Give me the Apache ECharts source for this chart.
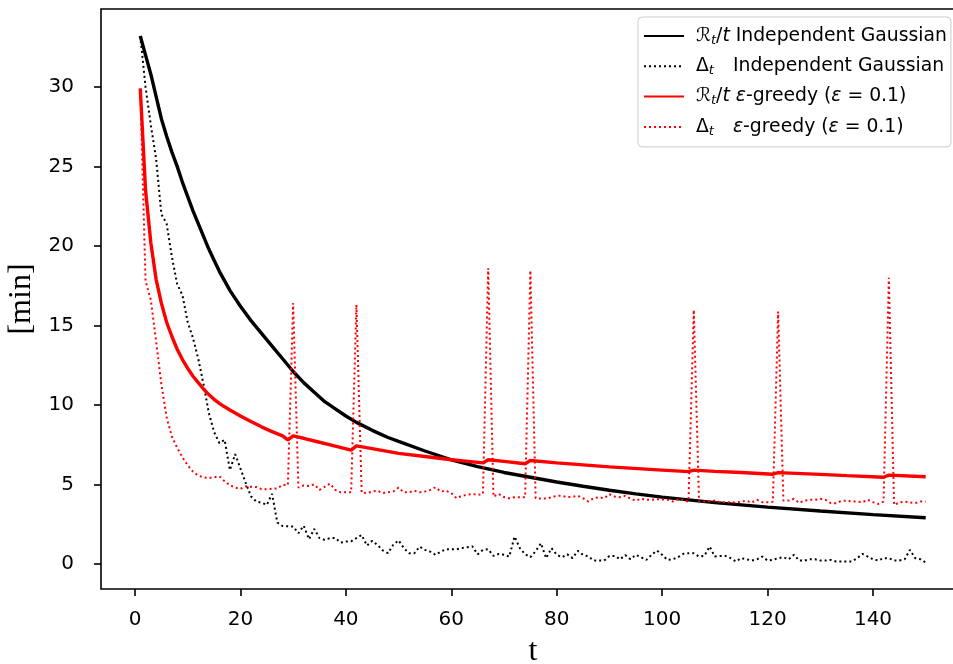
<!DOCTYPE html>
<html>
<head>
<meta charset="utf-8">
<title>R_t/t and Delta_t</title>
<script src="https://cdn.jsdelivr.net/npm/echarts@6.0.0/dist/echarts.min.js"></script>
<style>
  html, body { margin: 0; padding: 0; background: #fff; }
  #chart { width: 953px; height: 664px; }
</style>
</head>
<body>
<div id="chart"></div>
<script>
// tick labels
const xTicks = [0, 20, 40, 60, 80, 100, 120, 140]
const yTicks = [0, 5, 10, 15, 20, 25, 30]

// R_t/t, independent gaussian (smooth curve, read at some t)
const gaussAvgT = [1, 2, 3, 4, 5, 6, 7, 8, 9, 10, 11, 12, 13, 14, 15, 16, 17, 18, 19, 20, 22, 24, 26, 28, 30, 32, 34, 36, 38, 40, 42, 45, 48, 50, 55, 60, 65, 70, 75, 80, 85, 90, 95, 100, 110, 120, 130, 140, 150]
const gaussAvg = [33.2, 32.0, 30.8, 29.4, 28.0, 26.9, 25.9, 25.0, 24.0, 23.1, 22.2, 21.4, 20.6, 19.8, 19.1, 18.4, 17.8, 17.2, 16.7, 16.2, 15.3, 14.5, 13.7, 12.9, 12.1, 11.4, 10.8, 10.2, 9.75, 9.3, 8.9, 8.4, 7.95, 7.7, 7.1, 6.55, 6.12, 5.75, 5.45, 5.15, 4.88, 4.63, 4.4, 4.2, 3.85, 3.57, 3.33, 3.1, 2.9]

// Delta_t, independent gaussian, t = 1..150
const gaussDelta = [
  33.2, 30.0, 27.6, 25.5, 22.0, 21.4, 19.3, 17.6, 16.9, 15.2,
  14.2, 12.9, 11.3, 9.5, 8.3, 7.6, 7.8, 5.9, 6.9, 6.0,
  5.1, 4.25, 3.92, 3.85, 3.71, 4.4, 2.6, 2.38, 2.37, 2.35,
  1.93, 2.4, 1.55, 2.2, 1.62, 1.51, 1.62, 1.62, 1.34, 1.4,
  1.42, 1.62, 1.82, 1.15, 1.45, 1.19, 0.85, 0.67, 1.2, 1.48,
  0.99, 0.67, 0.67, 1.09, 0.88, 0.77, 0.57, 0.77, 0.92, 0.92,
  0.92, 0.99, 1.05, 1.1, 0.6, 0.88, 0.92, 0.5, 0.63, 0.57,
  0.46, 1.72, 0.99, 0.6, 0.42, 0.8, 1.3, 0.36, 0.99, 0.57,
  0.42, 0.6, 0.36, 0.82, 0.57, 0.46, 0.21, 0.21, 0.21, 0.5,
  0.5, 0.29, 0.55, 0.29, 0.57, 0.42, 0.25, 0.57, 0.84, 0.57,
  0.25, 0.29, 0.42, 0.63, 0.67, 0.67, 0.46, 0.5, 1.09, 0.46,
  0.5, 0.5, 0.36, 0.15, 0.36, 0.29, 0.21, 0.29, 0.46, 0.21,
  0.25, 0.36, 0.42, 0.29, 0.57, 0.21, 0.21, 0.29, 0.29, 0.21,
  0.21, 0.25, 0.15, 0.15, 0.15, 0.15, 0.36, 0.63, 0.46, 0.29,
  0.21, 0.36, 0.36, 0.21, 0.21, 0.29, 0.88, 0.36, 0.29, 0.08
]

// R_t/t, epsilon-greedy (smooth with small bumps at the spikes)
const epsAvgT = [1, 2, 3, 4, 5, 6, 7, 8, 9, 10, 11, 12, 13, 14, 15, 16, 17, 18, 20, 22, 24, 26, 28, 29, 30, 32, 35, 38, 41, 42, 45, 50, 55, 60, 66, 67, 70, 74, 75, 80, 90, 100, 105, 106, 110, 115, 121, 122, 130, 135, 142, 143, 150]
const epsAvg = [29.9, 23.5, 20.2, 17.9, 16.4, 15.2, 14.3, 13.5, 12.85, 12.3, 11.8, 11.4, 11.0, 10.65, 10.35, 10.1, 9.88, 9.68, 9.3, 8.95, 8.62, 8.32, 8.05, 7.8, 8.05, 7.9, 7.65, 7.4, 7.15, 7.42, 7.25, 6.95, 6.75, 6.55, 6.35, 6.55, 6.45, 6.3, 6.5, 6.35, 6.1, 5.9, 5.8, 5.9, 5.82, 5.75, 5.64, 5.74, 5.63, 5.55, 5.45, 5.58, 5.48]

// Delta_t, epsilon-greedy, t = 1..150
const epsDelta = [
  29.9, 17.8, 16.6, 14.0, 11.3, 9.2, 8.0, 7.3, 6.7, 6.2,
  5.8, 5.55, 5.45, 5.4, 5.45, 5.5, 5.2, 4.95, 4.8, 4.72,
  4.88, 4.85, 4.84, 4.7, 4.7, 4.72, 4.75, 4.97, 4.95, 16.4,
  4.8, 4.93, 4.9, 5.0, 4.65, 4.85, 5.05, 4.65, 4.5, 4.5,
  4.5, 16.3, 4.48, 4.45, 4.55, 4.6, 4.45, 4.5, 4.55, 4.8,
  4.5, 4.5, 4.6, 4.5, 4.55, 4.65, 4.82, 4.55, 4.6, 4.45,
  4.13, 4.28, 4.34, 4.4, 4.34, 4.4, 18.6, 4.23, 4.4, 4.2,
  4.13, 4.19, 4.19, 4.19, 18.45, 4.13, 4.11, 4.11, 4.19, 4.28,
  4.28, 4.2, 4.22, 4.28, 4.13, 3.92, 4.13, 4.19, 4.13, 4.38,
  4.23, 4.19, 4.28, 4.1, 3.98, 4.1, 4.03, 4.03, 4.07, 4.05,
  4.03, 3.92, 4.07, 4.0, 3.92, 15.97, 3.92, 3.92, 3.95, 3.98,
  3.88, 3.88, 3.88, 3.86, 3.92, 3.96, 3.86, 4.03, 3.88, 3.88,
  3.9, 15.87, 3.98, 3.98, 4.09, 3.84, 3.98, 4.03, 4.03, 4.09,
  4.03, 3.82, 3.82, 3.96, 3.98, 3.92, 3.92, 3.88, 4.03, 3.88,
  3.77, 3.92, 18.0, 3.71, 3.86, 3.92, 3.86, 3.82, 3.92, 3.92
]

const seriesNames = ['gaussAvg', 'gaussDelta', 'epsAvg', 'epsDelta']

// legend labels with subscripts
const legendText = {
  gaussAvg: '{R|ℛ}{s|t}{n|/}{i|t} Independent Gaussian',
  gaussDelta: '{n|Δ}{s|t}{gap| }Independent Gaussian',
  epsAvg: '{R|ℛ}{s|t}{n|/}{i|t} {i|ε}-greedy ({i|ε} = 0.1)',
  epsDelta: '{n|Δ}{s|t}{gap| }{i|ε}-greedy ({i|ε} = 0.1)'
}

const pairs = (xs, ys) => ys.map((v, i) => [xs[i], v])
const steps = gaussDelta.map((_, i) => i + 1)

const chart = echarts.init(document.getElementById('chart'))

const axisFont = { color: '#000', fontFamily: 'DejaVu Sans', fontSize: 20 }
const legendSize = 18.8

chart.setOption({
  animation: false,
  backgroundColor: '#fff',
  grid: {
    left: 101,
    top: 9,
    right: -12,
    bottom: 75,
    show: true,
    borderColor: '#000',
    borderWidth: 1.6,
    backgroundColor: 'transparent',
    containLabel: false,
    outerBoundsMode: 'none'
  },
  legend: {
    orient: 'vertical',
    left: 638,
    top: 17,
    padding: [8, 4, 9, 5],
    itemWidth: 40,
    itemHeight: 14,
    itemGap: 8.3,
    itemStyle: { opacity: 0 },
    backgroundColor: 'rgba(255,255,255,0.8)',
    borderColor: '#cccccc',
    borderWidth: 1,
    borderRadius: 4,
    data: seriesNames,
    formatter: name => legendText[name],
    textStyle: {
      color: '#000',
      fontFamily: 'DejaVu Sans',
      fontSize: legendSize,
      lineHeight: 22,
      padding: [0, 0, 0, 7],
      rich: {
        R: { fontFamily: 'DejaVu Sans', fontStyle: 'italic', fontSize: legendSize, color: '#000' },
        n: { fontFamily: 'DejaVu Sans', fontSize: legendSize, color: '#000' },
        i: { fontFamily: 'DejaVu Sans', fontStyle: 'italic', fontSize: legendSize, color: '#000' },
        s: { fontFamily: 'DejaVu Sans', fontStyle: 'italic', fontSize: 13, color: '#000', padding: [9, 0, 0, 0] },
        gap: { width: 19 }
      }
    }
  },
  xAxis: {
    type: 'value',
    min: -6.45,
    max: 157.45,
    name: 't',
    nameLocation: 'middle',
    nameGap: 47,
    nameTextStyle: { color: '#000', fontFamily: 'Liberation Serif', fontSize: 32 },
    axisLine: { show: false, onZero: false },
    axisTick: { show: true, length: 7, customValues: xTicks, lineStyle: { color: '#000', width: 1.6 } },
    axisLabel: { ...axisFont, margin: 21, customValues: xTicks },
    splitLine: { show: false }
  },
  yAxis: {
    type: 'value',
    min: -1.58,
    max: 34.9,
    name: '[min]',
    nameLocation: 'middle',
    nameGap: 58,
    nameTextStyle: { color: '#000', fontFamily: 'Liberation Serif', fontSize: 32 },
    axisLine: { show: false, onZero: false },
    axisTick: { show: true, length: 7, customValues: yTicks, lineStyle: { color: '#000', width: 1.6 } },
    axisLabel: { ...axisFont, margin: 27, customValues: yTicks },
    splitLine: { show: false }
  },
  series: [
    {
      name: 'gaussAvg',
      type: 'line',
      data: pairs(gaussAvgT, gaussAvg),
      symbol: 'none',
      lineStyle: { color: '#000', width: 3.4 },
      itemStyle: { color: '#000' }
    },
    {
      name: 'gaussDelta',
      type: 'line',
      data: pairs(steps, gaussDelta),
      symbol: 'none',
      lineStyle: { color: '#000', width: 2, type: [2, 3] },
      itemStyle: { color: '#000' }
    },
    {
      name: 'epsAvg',
      type: 'line',
      data: pairs(epsAvgT, epsAvg),
      symbol: 'none',
      lineStyle: { color: '#ff0000', width: 3.4 },
      itemStyle: { color: '#ff0000' }
    },
    {
      name: 'epsDelta',
      type: 'line',
      data: pairs(steps, epsDelta),
      symbol: 'none',
      lineStyle: { color: '#ff0000', width: 2, type: [2, 3] },
      itemStyle: { color: '#ff0000' }
    }
  ]
})
</script>
</body>
</html>
